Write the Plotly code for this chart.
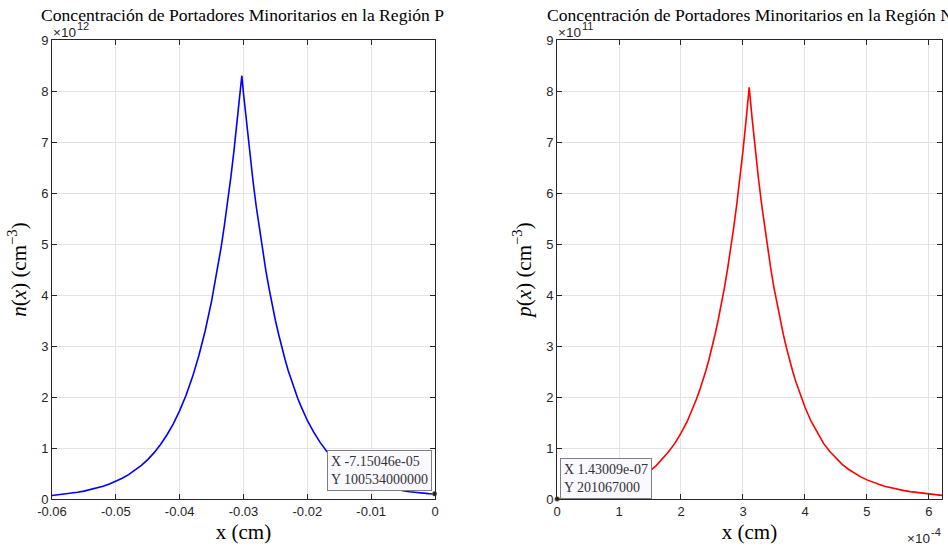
import plotly.graph_objects as go

# ---------------- data ----------------
# Left panel: electrons in the P region; x in cm, n in units of 1e12 cm^-3
x_p = [-0.0600, -0.0590, -0.0580, -0.0570, -0.0560, -0.0550, -0.0540, -0.0530,
       -0.0520, -0.0510, -0.0500, -0.0490, -0.0480, -0.0470, -0.0460, -0.0450,
       -0.0440, -0.0430, -0.0420, -0.0410, -0.0400, -0.0390, -0.0380, -0.0370,
       -0.0360, -0.0350, -0.0345, -0.0340, -0.0335, -0.0330, -0.0325, -0.0320,
       -0.0315, -0.0310, -0.0305, -0.03026,
       -0.0300, -0.0295, -0.0290, -0.0285, -0.0280, -0.0275, -0.0270, -0.0265,
       -0.0260, -0.0255, -0.0250, -0.0245, -0.0240, -0.0235, -0.0230, -0.0225,
       -0.0220, -0.0215, -0.0210, -0.0200, -0.0190, -0.0180, -0.0170, -0.0160,
       -0.0150, -0.0140, -0.0130, -0.0120, -0.0110, -0.0100, -0.0090, -0.0080,
       -0.0070, -0.0060, -0.0050, -0.0040, -0.0030, -0.0020, -0.0010, -0.0000715]
n_p = [0.069, 0.081, 0.095, 0.112, 0.131, 0.154, 0.181, 0.213,
       0.250, 0.294, 0.345, 0.406, 0.477, 0.560, 0.658, 0.773,
       0.909, 1.068, 1.255, 1.474, 1.732, 2.035, 2.39, 2.81,
       3.30, 3.88, 4.21, 4.56, 4.94, 5.36, 5.80, 6.29,
       6.82, 7.40, 8.00, 8.30,
       7.95, 7.33, 6.75, 6.22, 5.73, 5.28, 4.87, 4.48,
       4.13, 3.80, 3.50, 3.23, 2.97, 2.74, 2.52, 2.32,
       2.14, 1.97, 1.82, 1.54, 1.31, 1.11, 0.94, 0.80,
       0.68, 0.58, 0.50, 0.43, 0.37, 0.32, 0.28, 0.245,
       0.214, 0.187, 0.163, 0.143, 0.127, 0.115, 0.106, 0.1005]

# Right panel: holes in the N region; x in units of 1e-4 cm, p in units of 1e11 cm^-3
x_n_1e4 = [0.00143, 0.1, 0.2, 0.3, 0.4, 0.5, 0.6, 0.7, 0.8, 0.9,
           1.0, 1.1, 1.2, 1.3, 1.4, 1.5, 1.6, 1.7, 1.8, 1.9,
           2.0, 2.1, 2.2, 2.25, 2.3, 2.35, 2.4, 2.45, 2.5, 2.55,
           2.6, 2.65, 2.7, 2.75, 2.8, 2.85, 2.9, 2.95, 3.0, 3.05,
           3.1,
           3.15, 3.2, 3.25, 3.3, 3.35, 3.4, 3.45, 3.5, 3.55,
           3.6, 3.65, 3.7, 3.75, 3.8, 3.85, 3.9, 3.95, 4.0, 4.1,
           4.2, 4.3, 4.4, 4.5, 4.6, 4.7, 4.8, 4.9, 5.0, 5.1,
           5.2, 5.3, 5.4, 5.5, 5.6, 5.7, 5.8, 5.9, 6.0, 6.1, 6.21]
p_n = [0.00201, 0.015, 0.03, 0.045, 0.062, 0.08, 0.10, 0.125, 0.152, 0.186,
       0.225, 0.27, 0.324, 0.388, 0.462, 0.55, 0.655, 0.78, 0.925, 1.09,
       1.29, 1.52, 1.80, 1.96, 2.13, 2.31, 2.51, 2.73, 2.97, 3.23,
       3.51, 3.81, 4.14, 4.50, 4.89, 5.32, 5.78, 6.28, 6.83, 7.43,
       8.07,
       7.43, 6.83, 6.28, 5.78, 5.32, 4.89, 4.50, 4.14, 3.81,
       3.51, 3.23, 2.97, 2.73, 2.51, 2.31, 2.13, 1.96, 1.80, 1.52,
       1.29, 1.09, 0.93, 0.795, 0.68, 0.584, 0.503, 0.434, 0.375, 0.325,
       0.283, 0.246, 0.215, 0.188, 0.165, 0.145, 0.128, 0.111, 0.096, 0.083, 0.07]
x_n = [v * 1e-4 for v in x_n_1e4]

# data tips (values as displayed)
tip_p = {"x": -7.15046e-05, "y": 100534000000 / 1e12, "text": "X -7.15046e-05<br>Y 100534000000"}
tip_n = {"x": 1.43009e-07, "y": 201067000 / 1e11, "text": "X 1.43009e-07<br>Y 201067000"}

# ticks
xt_p = [-0.06, -0.05, -0.04, -0.03, -0.02, -0.01, 0]
xt_p_txt = ["-0.06", "-0.05", "-0.04", "-0.03", "-0.02", "-0.01", "0"]
xt_n = [0, 1e-4, 2e-4, 3e-4, 4e-4, 5e-4, 6e-4]
xt_n_txt = ["0", "1", "2", "3", "4", "5", "6"]
yt = [0, 1, 2, 3, 4, 5, 6, 7, 8, 9]
yt_txt = [str(v) for v in yt]

title_p = "Concentración de Portadores Minoritarios en la Región P"
title_n = "Concentración de Portadores Minoritarios en la Región N"
exp_p, exp_n, exp_x = "12", "11", "-4"

# ---------------- figure ----------------
W, H = 948, 548
def px_x(p):
    return p / W
def px_y(p):
    return 1 - p / H

fig = go.Figure()
fig.add_trace(go.Scatter(x=x_p, y=n_p, mode="lines", line=dict(color="#0000ff", width=1.6),
                         xaxis="x", yaxis="y", showlegend=False, hoverinfo="skip"))
fig.add_trace(go.Scatter(x=x_n, y=p_n, mode="lines", line=dict(color="#ff0000", width=1.6),
                         xaxis="x2", yaxis="y2", showlegend=False, hoverinfo="skip"))
fig.add_trace(go.Scatter(x=[tip_p["x"]], y=[tip_p["y"]], mode="markers",
                         marker=dict(color="#202020", size=5, line=dict(color="#e0e0a0", width=0.5)),
                         xaxis="x", yaxis="y", showlegend=False, hoverinfo="skip", cliponaxis=False))
fig.add_trace(go.Scatter(x=[tip_n["x"]], y=[tip_n["y"]], mode="markers",
                         marker=dict(color="#202020", size=5, line=dict(color="#e0e0a0", width=0.5)),
                         xaxis="x2", yaxis="y2", showlegend=False, hoverinfo="skip", cliponaxis=False))

axcol = "#262626"
gridcol = "#e3e3e3"
tickfont = dict(family="Liberation Sans, Arial, sans-serif", size=13, color=axcol)
labfont = dict(family="Liberation Serif, Times New Roman, serif", size=21, color="#000000")

common = dict(showline=True, linecolor=axcol, linewidth=1, mirror="ticks", ticks="inside",
              ticklen=5, tickcolor=axcol, showgrid=True, gridcolor=gridcol, gridwidth=1,
              zeroline=False, tickfont=tickfont, tickmode="array", automargin=False)

ydom = [px_y(499), px_y(40)]
fig.update_layout(
    width=W, height=H, margin=dict(l=0, r=0, t=0, b=0, autoexpand=False),
    plot_bgcolor="#ffffff", paper_bgcolor="#ffffff",
    xaxis=dict(common, domain=[px_x(52), px_x(435)], range=[-0.06, 0], anchor="y",
               tickvals=xt_p, ticktext=xt_p_txt,
               title=dict(text="x (cm)", font=labfont, standoff=6)),
    yaxis=dict(common, domain=ydom, range=[0, 9], anchor="x",
               tickvals=yt, ticktext=yt_txt,
               title=dict(text="<i>n</i>(<i>x</i>) (cm<sup>−3</sup>)", font=labfont, standoff=8)),
    xaxis2=dict(common, domain=[px_x(557), px_x(942)], range=[0, 6.21e-4], anchor="y2",
                tickvals=xt_n, ticktext=xt_n_txt,
                title=dict(text="x (cm)", font=labfont, standoff=6)),
    yaxis2=dict(common, domain=ydom, range=[0, 9], anchor="x2",
                tickvals=yt, ticktext=yt_txt,
                title=dict(text="<i>p</i>(<i>x</i>) (cm<sup>−3</sup>)", font=labfont, standoff=8)),
)

titlefont = dict(family="Liberation Serif, Times New Roman, serif", size=17.6, color="#000000")
ann = []
ann.append(dict(text=title_p, xref="paper", yref="paper", x=px_x(242), y=px_y(15),
                xanchor="center", yanchor="middle", showarrow=False, font=titlefont))
ann.append(dict(text=title_n, xref="paper", yref="paper", x=px_x(749.5), y=px_y(15),
                xanchor="center", yanchor="middle", showarrow=False, font=titlefont))

basefont = dict(family="Liberation Sans, Arial, sans-serif", size=13.5, color=axcol)
supfont = dict(family="Liberation Sans, Arial, sans-serif", size=11, color=axcol)
def add_exp(x_left, y_mid, sup):
    ann.append(dict(text="×10", xref="paper", yref="paper", x=px_x(x_left), y=px_y(y_mid),
                    xanchor="left", yanchor="middle", showarrow=False, font=basefont,
                    borderpad=0))
    ann.append(dict(text=sup, xref="paper", yref="paper", x=px_x(x_left + 24), y=px_y(y_mid - 6),
                    xanchor="left", yanchor="middle", showarrow=False, font=supfont,
                    borderpad=0))
add_exp(52, 32, exp_p)
add_exp(557, 32, exp_n)
add_exp(906, 538, exp_x)

tipfont = dict(family="Liberation Serif, Times New Roman, serif", size=14, color="#333333")
ann.append(dict(text=tip_p["text"], xref="x", yref="y", x=tip_p["x"], y=tip_p["y"],
                showarrow=True, arrowcolor="rgba(0,0,0,0)", ax=-55, ay=-23,
                align="left", font=tipfont, bgcolor="#f9f9ff", bordercolor="#7f7f7f",
                borderwidth=1, borderpad=3))
ann.append(dict(text=tip_n["text"], xref="x2", yref="y2", x=tip_n["x"], y=tip_n["y"],
                showarrow=True, arrowcolor="rgba(0,0,0,0)", ax=49, ay=-20,
                align="left", font=tipfont, bgcolor="#f9f9ff", bordercolor="#7f7f7f",
                borderwidth=1, borderpad=3))
fig.update_layout(annotations=ann)

fig.write_html("out.html", config={"displayModeBar": False},
               post_script="document.body.style.margin='0px';")
